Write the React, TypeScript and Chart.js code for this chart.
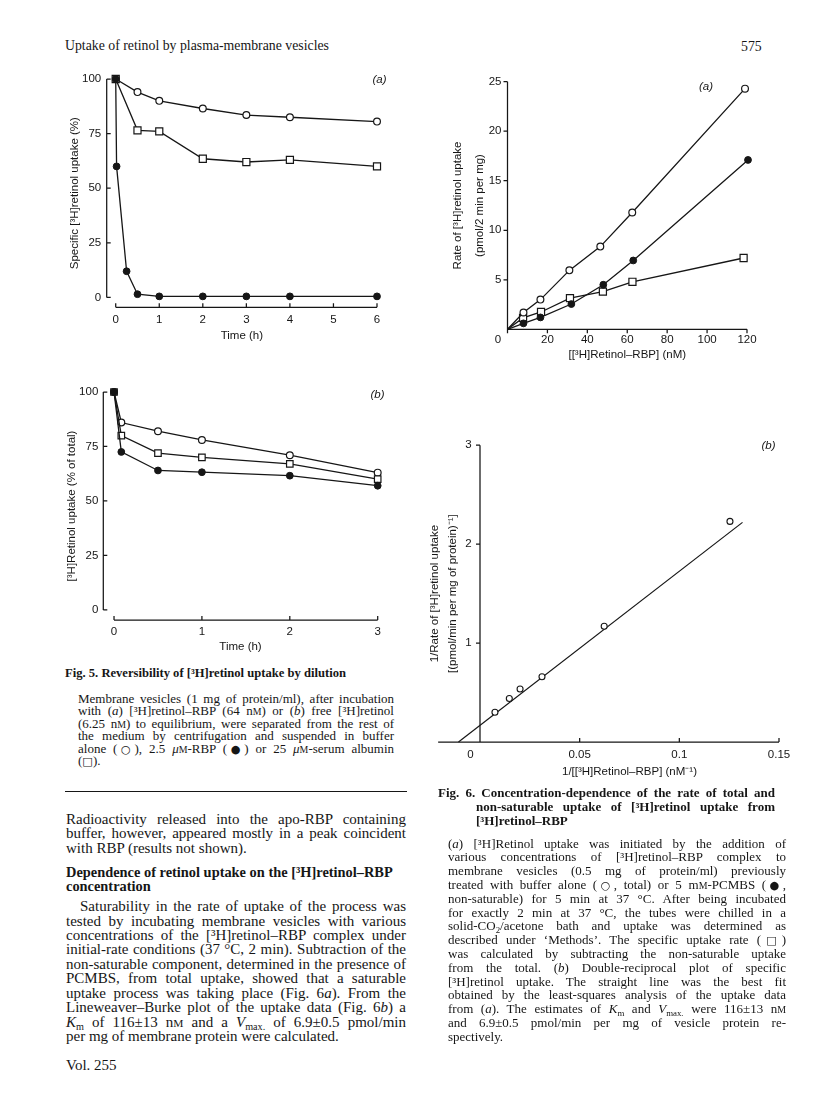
import React, { useEffect, useRef } from "react";
import { Chart, registerables } from "chart.js";

Chart.register(...registerables);

// ---------------- Fig. 5(a) : dilution of [3H]retinol-RBP ----------------
const fig5aOpenTime = [0, 0.5, 1, 2, 3, 4, 6];
const fig5aOpen = [100, 94, 90, 86.5, 83.5, 82.5, 80.5];
const fig5aSquareTime = [0, 0.5, 1, 2, 3, 4, 6];
const fig5aSquare = [100, 76.5, 76, 63.5, 62, 63, 60];
const fig5aFilledTime = [0, 0.02, 0.25, 0.5, 1, 2, 3, 4, 6];
const fig5aFilled = [100, 60, 12, 1.5, 0.5, 0.5, 0.5, 0.5, 0.5];
const fig5aXTicks = [0, 1, 2, 3, 4, 5, 6];
const fig5aYTicks = [0, 25, 50, 75, 100];

// ---------------- Fig. 5(b) : dilution of free [3H]retinol ----------------
const fig5bTime = [0, 0.083, 0.5, 1, 2, 3];
const fig5bOpen = [100, 86, 82, 78, 71, 63];
const fig5bSquare = [100, 80, 72, 70, 67, 60];
const fig5bFilled = [100, 72.5, 64, 63.2, 61.6, 57];
const fig5bXTicks = [0, 1, 2, 3];
const fig5bYTicks = [0, 25, 50, 75, 100];

// ---------------- Fig. 6(a) : rate vs [3H]retinol-RBP ----------------
const fig6aTotalConc = [0, 8, 16.5, 31, 46.5, 62.5, 119];
const fig6aTotal = [0, 1.7, 3.0, 5.95, 8.35, 11.8, 24.3];
const fig6aNonSatConc = [0, 8, 16.5, 32, 48, 63, 120.5];
const fig6aNonSat = [0, 0.6, 1.2, 2.55, 4.5, 6.95, 17.1];
const fig6aSpecificConc = [0, 7.8, 16.8, 31.3, 47.8, 62.6, 118.3];
const fig6aSpecific = [0, 1.15, 1.75, 3.15, 3.8, 4.8, 7.2];
const fig6aXTicks = [0, 20, 40, 60, 80, 100, 120];
const fig6aYTicks = [5, 10, 15, 20, 25];

// ---------------- Fig. 6(b) : double-reciprocal plot ----------------
const fig6bInvConc = [0.0075, 0.0147, 0.0201, 0.0311, 0.0623, 0.1254];
const fig6bInvRate = [0.3, 0.44, 0.535, 0.66, 1.17, 2.23];
const fig6bFitX = [-0.0108, 0.1317];
const fig6bFitY = [0, 2.22];
const fig6bXTicks = [0, 0.05, 0.1, 0.15];
const fig6bYTicks = [1, 2, 3];
const fig6bXAxisExtent = [-0.021, 0.15];

// ---------------- styling ----------------
const INK = "#161616";
const SANS = '"Liberation Sans", Arial, Helvetica, sans-serif';
const SERIF = '"Liberation Serif", "Times New Roman", Times, serif';
const TICK_SIZE = 11.5;

const pts = (xs: number[], ys: number[]) => xs.map((x, i) => ({ x, y: ys[i] }));

const lineBase = {
  showLine: true,
  borderColor: INK,
  borderWidth: 1.3,
  fill: false,
  tension: 0,
  clip: false as any,
};
const openCircle = {
  ...lineBase,
  pointStyle: "circle",
  pointRadius: 3.4,
  pointBackgroundColor: "#ffffff",
  pointBorderColor: INK,
  pointBorderWidth: 1.2,
};
const filledCircle = {
  ...lineBase,
  pointStyle: "circle",
  pointRadius: 3.4,
  pointBackgroundColor: INK,
  pointBorderColor: INK,
  pointBorderWidth: 1,
};
const openSquare = {
  ...lineBase,
  pointStyle: "rect",
  pointRadius: 5.0,
  pointBackgroundColor: "#ffffff",
  pointBorderColor: INK,
  pointBorderWidth: 1.2,
};
const hideFirst = (r: number) => (c: any) => (c.dataIndex === 0 ? 0 : r);

type Box = { x: number; y: number; w: number; h: number };
type Area = { l: number; t: number; r: number; b: number };
type Frame = {
  xExtent: number[];
  yExtent: number[];
  xTicks: number[];
  yTicks: number[];
  xTickDir: number;
  yTickDir: number;
};
type PanelSpec = {
  box: Box;
  area: Area;
  xMin: number;
  xMax: number;
  yMin: number;
  yMax: number;
  xTicks: number[];
  yTicks: number[];
  xLabel: (v: number) => string;
  xTickPad: number;
  yTickPad: number;
  xTitle: string;
  xTitleY: number;
  yTitle: string | string[];
  yTitleX: number;
  yTitleLH: number;
  frame: Frame;
  datasets: any[];
};

// draws the axis lines and the short tick marks, using the chart's own scales
const makeFramePlugin = (f: Frame) => ({
  id: "frameAxes",
  beforeDatasetsDraw(chart: any) {
    const { ctx, chartArea, scales } = chart;
    const xs = scales.x;
    const ys = scales.y;
    const len = 4;
    const ay = chartArea.bottom;
    const ax = chartArea.left;
    ctx.save();
    ctx.strokeStyle = INK;
    ctx.lineWidth = 1.25;
    ctx.beginPath();
    ctx.moveTo(xs.getPixelForValue(f.xExtent[0]), ay);
    ctx.lineTo(xs.getPixelForValue(f.xExtent[1]), ay);
    for (const t of f.xTicks) {
      const p = xs.getPixelForValue(t);
      ctx.moveTo(p, ay);
      ctx.lineTo(p, ay + f.xTickDir * len);
    }
    ctx.moveTo(ax, ys.getPixelForValue(f.yExtent[0]));
    ctx.lineTo(ax, ys.getPixelForValue(f.yExtent[1]));
    for (const t of f.yTicks) {
      const p = ys.getPixelForValue(t);
      ctx.moveTo(ax, p);
      ctx.lineTo(ax + f.yTickDir * len, p);
    }
    ctx.stroke();
    ctx.restore();
  },
});

function buildConfig(s: PanelSpec): any {
  const tickFont = { family: SANS, size: TICK_SIZE, lineHeight: 1.2 };
  const lh = TICK_SIZE * 1.2;
  const canvasBottom = s.box.y + s.box.h;
  return {
    type: "scatter",
    data: { datasets: s.datasets },
    plugins: [makeFramePlugin(s.frame)],
    options: {
      animation: false,
      responsive: false,
      maintainAspectRatio: false,
      layout: {
        autoPadding: false,
        padding: {
          left: 0,
          top: s.area.t - s.box.y,
          right: s.box.x + s.box.w - s.area.r,
          bottom: 0,
        },
      },
      plugins: { legend: { display: false }, tooltip: { enabled: false } },
      scales: {
        x: {
          type: "linear",
          position: "bottom",
          min: s.xMin,
          max: s.xMax,
          grid: { display: false, drawTicks: false, tickLength: 0 },
          border: { display: false },
          afterBuildTicks: (sc: any) => {
            sc.ticks = s.xTicks.map((v) => ({ value: v }));
          },
          afterFit: (sc: any) => {
            sc.height = canvasBottom - s.area.b;
          },
          ticks: {
            padding: s.xTickPad,
            color: INK,
            font: tickFont,
            autoSkip: false,
            maxRotation: 0,
            callback: (v: any) => s.xLabel(Number(v)),
          },
          title: {
            display: true,
            text: s.xTitle,
            color: INK,
            font: tickFont,
            padding: { top: 0, bottom: canvasBottom - s.xTitleY - lh / 2 },
          },
        },
        y: {
          type: "linear",
          position: "left",
          min: s.yMin,
          max: s.yMax,
          grid: { display: false, drawTicks: false, tickLength: 0 },
          border: { display: false },
          afterBuildTicks: (sc: any) => {
            sc.ticks = s.yTicks.map((v) => ({ value: v }));
          },
          afterFit: (sc: any) => {
            sc.width = s.area.l - s.box.x;
          },
          ticks: {
            padding: s.yTickPad,
            color: INK,
            font: tickFont,
            autoSkip: false,
            callback: (v: any) => String(v),
          },
          title: {
            display: true,
            text: s.yTitle,
            color: INK,
            font: { family: SANS, size: TICK_SIZE, lineHeight: s.yTitleLH / TICK_SIZE },
            padding: { top: s.yTitleX - s.box.x - s.yTitleLH / 2, bottom: 0 },
          },
        },
      },
    },
  };
}

function Panel({ spec }: { spec: PanelSpec }) {
  const ref = useRef<HTMLCanvasElement | null>(null);
  useEffect(() => {
    if (!ref.current) return;
    const chart = new Chart(ref.current, buildConfig(spec));
    return () => chart.destroy();
  }, []);
  return (
    <canvas
      ref={ref}
      width={spec.box.w}
      height={spec.box.h}
      style={{ position: "absolute", left: spec.box.x, top: spec.box.y, width: spec.box.w, height: spec.box.h }}
    />
  );
}

const plain = (v: number) => String(v);
const shiftedZero = (v: number) => (v === 0 ? "0\u2007\u2007\u2007" : String(v));

const panel5a: PanelSpec = {
  box: { x: 30, y: 60, w: 370, h: 300 },
  area: { l: 106.7, t: 79, r: 377, b: 307.3 },
  xMin: -0.207,
  xMax: 6,
  yMin: -4.5,
  yMax: 100,
  xTicks: fig5aXTicks,
  yTicks: fig5aYTicks,
  xLabel: plain,
  xTickPad: 5.8,
  yTickPad: 5.5,
  xTitle: "Time (h)",
  xTitleY: 336,
  yTitle: "Specific [³H]retinol uptake (%)",
  yTitleX: 75,
  yTitleLH: 13.8,
  frame: { xExtent: [0, 6], yExtent: [0, 100], xTicks: fig5aXTicks, yTicks: fig5aYTicks, xTickDir: -1, yTickDir: 1 },
  datasets: [
    { ...filledCircle, data: pts(fig5aFilledTime, fig5aFilled) },
    { ...openSquare, data: pts(fig5aSquareTime, fig5aSquare) },
    { ...openCircle, data: pts(fig5aOpenTime, fig5aOpen) },
  ],
};

const panel5b: PanelSpec = {
  box: { x: 30, y: 375, w: 370, h: 290 },
  area: { l: 103.3, t: 392, r: 377.7, b: 620 },
  xMin: -0.122,
  xMax: 3,
  yMin: -4.6,
  yMax: 100,
  xTicks: fig5bXTicks,
  yTicks: fig5bYTicks,
  xLabel: plain,
  xTickPad: 4.8,
  yTickPad: 5,
  xTitle: "Time (h)",
  xTitleY: 647,
  yTitle: "[³H]Retinol uptake (% of total)",
  yTitleX: 71.7,
  yTitleLH: 13.8,
  frame: { xExtent: [0, 3], yExtent: [0, 100], xTicks: fig5bXTicks, yTicks: fig5bYTicks, xTickDir: -1, yTickDir: 1 },
  datasets: [
    { ...filledCircle, data: pts(fig5bTime, fig5bFilled) },
    { ...openSquare, pointRadius: 4.6, data: pts(fig5bTime, fig5bSquare) },
    { ...openCircle, data: pts(fig5bTime, fig5bOpen) },
  ],
};

const panel6a: PanelSpec = {
  box: { x: 420, y: 65, w: 360, h: 305 },
  area: { l: 507.5, t: 81.7, r: 747, b: 329.3 },
  xMin: 0,
  xMax: 120,
  yMin: 0,
  yMax: 25,
  xTicks: fig6aXTicks,
  yTicks: fig6aYTicks,
  xLabel: shiftedZero,
  xTickPad: 3.8,
  yTickPad: 6,
  xTitle: "[[³H]Retinol–RBP] (nM)",
  xTitleY: 355,
  yTitle: ["Rate of [³H]retinol uptake", "(pmol/2 min per mg)"],
  yTitleX: 458.3,
  yTitleLH: 21.7,
  frame: { xExtent: [0, 120], yExtent: [0, 25], xTicks: fig6aXTicks, yTicks: fig6aYTicks, xTickDir: 1, yTickDir: -1 },
  datasets: [
    { ...openCircle, pointRadius: hideFirst(3.4), data: pts(fig6aTotalConc, fig6aTotal) },
    { ...filledCircle, pointRadius: hideFirst(3.4), data: pts(fig6aNonSatConc, fig6aNonSat) },
    { ...openSquare, pointRadius: hideFirst(5.0), data: pts(fig6aSpecificConc, fig6aSpecific) },
  ],
};

const panel6b: PanelSpec = {
  box: { x: 410, y: 430, w: 395, h: 360 },
  area: { l: 480, t: 445, r: 779, b: 742 },
  xMin: 0,
  xMax: 0.15,
  yMin: 0,
  yMax: 3,
  xTicks: fig6bXTicks,
  yTicks: fig6bYTicks,
  xLabel: shiftedZero,
  xTickPad: 5.5,
  yTickPad: 8.3,
  xTitle: "1/[[³H]Retinol–RBP] (nM⁻¹)",
  xTitleY: 772,
  yTitle: ["1/Rate of [³H]retinol uptake", "[(pmol/min per mg of protein)⁻¹]"],
  yTitleX: 435,
  yTitleLH: 18.3,
  frame: {
    xExtent: fig6bXAxisExtent,
    yExtent: [0, 3],
    xTicks: fig6bXTicks,
    yTicks: fig6bYTicks,
    xTickDir: -1,
    yTickDir: -1,
  },
  datasets: [
    { ...openCircle, showLine: false, pointRadius: 3, pointBorderWidth: 1.1, data: pts(fig6bInvConc, fig6bInvRate) },
    { ...lineBase, pointRadius: 0, borderWidth: 1.2, data: pts(fig6bFitX, fig6bFitY) },
  ],
};

// ---------------- page text helpers ----------------
const SC = ({ children }: { children: React.ReactNode }) => (
  <span style={{ fontSize: "0.76em" }}>{children}</span>
);
const Sub = ({ children }: { children: React.ReactNode }) => (
  <span style={{ fontSize: "0.68em", verticalAlign: "-0.3em", lineHeight: 0 }}>{children}</span>
);
const Sym = ({ children }: { children: React.ReactNode }) => (
  <span style={{ fontFamily: '"DejaVu Sans", sans-serif', fontSize: "0.86em" }}>{children}</span>
);

type LineProps = {
  x: number;
  y: number;
  w: number;
  size: number;
  justify?: boolean;
  bold?: boolean;
  italic?: boolean;
  sans?: boolean;
  children: React.ReactNode;
};
function TL({ x, y, w, size, justify, bold, italic, sans, children }: LineProps) {
  const lh = Math.round(size * 1.3);
  return (
    <div
      style={{
        position: "absolute",
        left: x,
        top: y - lh / 2,
        width: w,
        height: lh,
        lineHeight: lh + "px",
        fontSize: size,
        fontFamily: sans ? SANS : SERIF,
        fontWeight: bold ? 700 : 400,
        fontStyle: italic ? "italic" : "normal",
        whiteSpace: "nowrap",
        textAlign: justify ? "justify" : "left",
        textAlignLast: justify ? "justify" : "left",
        color: INK,
      }}
    >
      {children}
    </div>
  );
}

const CAP = 13;
const BODY = 15;
const CAPB = 13;

export default function App() {
  const leftCap = [
    { y: 698.3, j: true, c: <>Membrane vesicles (1 mg of protein/ml), after incubation</> },
    { y: 710.8, j: true, c: <>with (<i>a</i>) [³H]retinol–RBP (64 n<SC>M</SC>) or (<i>b</i>) free [³H]retinol</> },
    { y: 723.3, j: true, c: <>(6.25 n<SC>M</SC>) to equilibrium, were separated from the rest of</> },
    { y: 735.8, j: true, c: <>the medium by centrifugation and suspended in buffer</> },
    {
      y: 748.3,
      j: true,
      c: (
        <>
          alone (<Sym>○</Sym>), 2.5 <i>μ</i>
          <SC>M</SC>-RBP (<Sym>●</Sym>) or 25 <i>μ</i>
          <SC>M</SC>-serum albumin
        </>
      ),
    },
    { y: 760.8, j: false, c: <>(<Sym>□</Sym>).</> },
  ];
  const leftBody = [
    { y: 819, x: 66, j: true, b: false, c: <>Radioactivity released into the apo-RBP containing</> },
    { y: 833.3, x: 66, j: true, b: false, c: <>buffer, however, appeared mostly in a peak coincident</> },
    { y: 847.5, x: 66, j: false, b: false, c: <>with RBP (results not shown).</> },
    { y: 872.3, x: 66, j: false, b: true, c: <>Dependence of retinol uptake on the [³H]retinol–RBP</> },
    { y: 886.7, x: 66, j: false, b: true, c: <>concentration</> },
    { y: 906, x: 80, j: true, b: false, c: <>Saturability in the rate of uptake of the process was</> },
    { y: 920.5, x: 66, j: true, b: false, c: <>tested by incubating membrane vesicles with various</> },
    { y: 935, x: 66, j: true, b: false, c: <>concentrations of the [³H]retinol–RBP complex under</> },
    { y: 949.3, x: 66, j: true, b: false, c: <>initial-rate conditions (37 °C, 2 min). Subtraction of the</> },
    { y: 963.8, x: 66, j: true, b: false, c: <>non-saturable component, determined in the presence of</> },
    { y: 978.2, x: 66, j: true, b: false, c: <>PCMBS, from total uptake, showed that a saturable</> },
    { y: 992.6, x: 66, j: true, b: false, c: <>uptake process was taking place (Fig. 6<i>a</i>). From the</> },
    { y: 1007.2, x: 66, j: true, b: false, c: <>Lineweaver–Burke plot of the uptake data (Fig. 6<i>b</i>) a</> },
    {
      y: 1021.6,
      x: 66,
      j: true,
      b: false,
      c: (
        <>
          <i>K</i>
          <Sub>m</Sub> of 116±13 n<SC>M</SC> and a <i>V</i>
          <Sub>max.</Sub> of 6.9±0.5 pmol/min
        </>
      ),
    },
    { y: 1036.2, x: 66, j: false, b: false, c: <>per mg of membrane protein were calculated.</> },
  ];
  const rightCap = [
    <>(<i>a</i>) [³H]Retinol uptake was initiated by the addition of</>,
    <>various concentrations of [³H]retinol–RBP complex to</>,
    <>membrane vesicles (0.5 mg of protein/ml) previously</>,
    <>treated with buffer alone (<Sym>○</Sym>, total) or 5 m<SC>M</SC>-PCMBS (<Sym>●</Sym>,</>,
    <>non-saturable) for 5 min at 37 °C. After being incubated</>,
    <>for exactly 2 min at 37 °C, the tubes were chilled in a</>,
    <>solid-CO<Sub>2</Sub>/acetone bath and uptake was determined as</>,
    <>described under ‘Methods’. The specific uptake rate (<Sym>□</Sym>)</>,
    <>was calculated by subtracting the non-saturable uptake</>,
    <>from the total. (<i>b</i>) Double-reciprocal plot of specific</>,
    <>[³H]retinol uptake. The straight line was the best fit</>,
    <>obtained by the least-squares analysis of the uptake data</>,
    <>
      from (<i>a</i>). The estimates of <i>K</i>
      <Sub>m</Sub> and <i>V</i>
      <Sub>max.</Sub> were 116±13 n<SC>M</SC>
    </>,
    <>and 6.9±0.5 pmol/min per mg of vesicle protein re-</>,
    <>spectively.</>,
  ];

  return (
    <div
      style={{
        position: "absolute",
        left: 0,
        top: 0,
        width: 816,
        height: 1105,
        background: "#ffffff",
        overflow: "hidden",
        color: INK,
      }}
    >
      <TL x={65} y={46} w={330} size={13.8}>
        Uptake of retinol by plasma-membrane vesicles
      </TL>
      <TL x={741} y={47} w={40} size={13.8}>
        575
      </TL>

      <Panel spec={panel5a} />
      <Panel spec={panel5b} />
      <Panel spec={panel6a} />
      <Panel spec={panel6b} />

      <TL x={372.5} y={79} w={20} size={11.5} sans italic>
        (a)
      </TL>
      <TL x={370.5} y={394} w={20} size={11.5} sans italic>
        (b)
      </TL>
      <TL x={699} y={86.7} w={20} size={11.5} sans italic>
        (a)
      </TL>
      <TL x={761.5} y={445} w={20} size={11.5} sans italic>
        (b)
      </TL>

      <TL x={65} y={672.5} w={340} size={12.6} bold>
        Fig. 5. Reversibility of [³H]retinol uptake by dilution
      </TL>
      {leftCap.map((l, i) => (
        <TL key={"lc" + i} x={78} y={l.y} w={316} size={CAP} justify={l.j}>
          {l.c}
        </TL>
      ))}
      <div style={{ position: "absolute", left: 65, top: 791, width: 342, height: 1, background: INK }} />
      {leftBody.map((l, i) => (
        <TL
          key={"lb" + i}
          x={l.x}
          y={l.y}
          w={406 - l.x}
          size={l.b ? 14.4 : BODY}
          justify={l.j}
          bold={l.b}
        >
          {l.c}
        </TL>
      ))}
      <TL x={66} y={1065} w={100} size={BODY}>
        Vol. 255
      </TL>

      <TL x={438} y={792.5} w={337} size={CAPB} bold justify>
        Fig. 6. Concentration-dependence of the rate of total and
      </TL>
      <TL x={476} y={806.3} w={299} size={CAPB} bold justify>
        non-saturable uptake of [³H]retinol uptake from
      </TL>
      <TL x={476} y={820} w={200} size={CAPB} bold>
        [³H]retinol–RBP
      </TL>
      {rightCap.map((c, i) => (
        <TL key={"rc" + i} x={448} y={843 + i * 13.8} w={338} size={CAP} justify={i < rightCap.length - 1}>
          {c}
        </TL>
      ))}
    </div>
  );
}
